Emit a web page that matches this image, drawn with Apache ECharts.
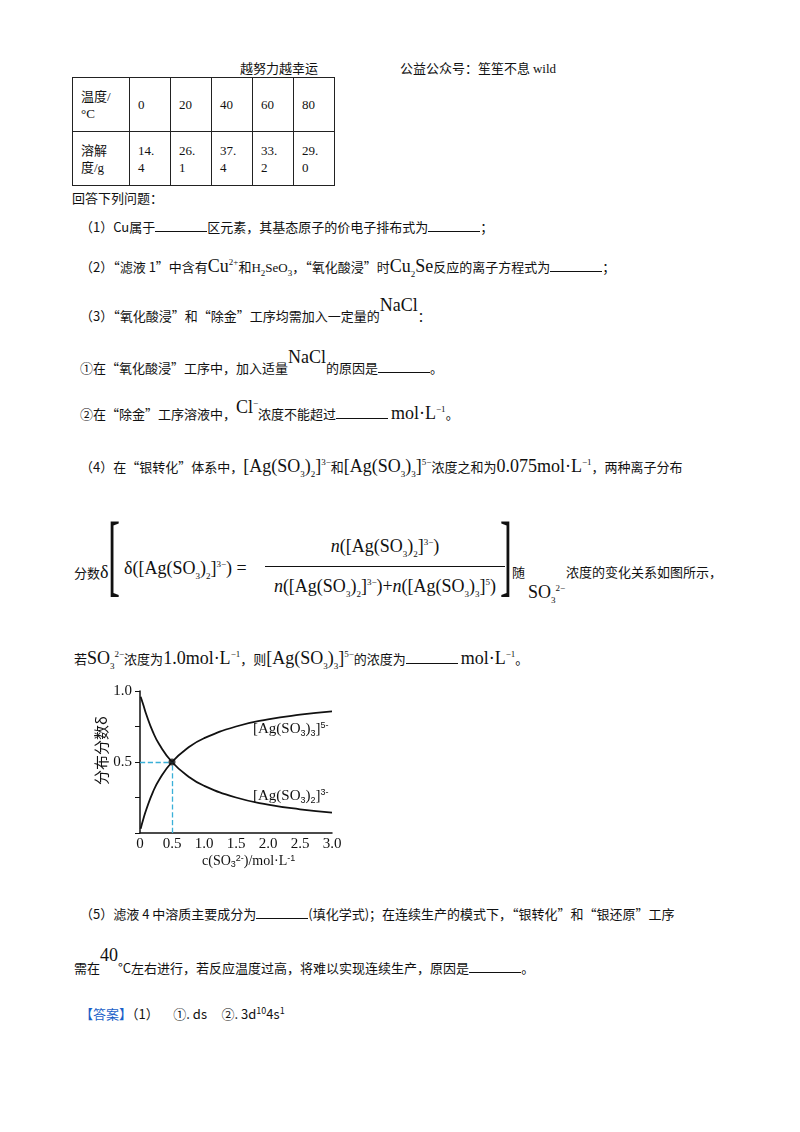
<!DOCTYPE html>
<html><head><meta charset="utf-8">
<script src="https://cdn.jsdelivr.net/npm/echarts@6/dist/echarts.min.js"></script>
<style>
body{margin:0;width:800px;height:1132px;background:#fff;position:relative;font-family:"Liberation Serif","Noto Sans CJK SC",serif;font-size:14px;color:#111;}
.t{position:absolute;white-space:nowrap;}
.c{font-family:"Noto Sans CJK SC",sans-serif;font-size:13px;}
sub,sup{font-size:9px;}
table{position:absolute;left:72px;top:77px;border-collapse:collapse;}
td{border:1.5px solid #222;vertical-align:middle;padding:0 8px;font-size:13px;line-height:17px;}
.u{display:inline-block;width:52px;border-bottom:1px solid #111;}
.big{font-size:18px;}
#chart{position:absolute;left:90px;top:676px;width:270px;height:200px;}
</style></head><body>
<div class="t c" style="left:240px;top:58px">越努力越幸运</div>
<div class="t c" style="left:400px;top:58px">公益公众号：笙笙不息 <span style="font-family:'Liberation Serif'">wild</span></div>
<table>
<tr style="height:54px"><td style="width:40px">温度/<br>°C</td><td style="width:24px">0</td><td style="width:24px">20</td><td style="width:24px">40</td><td style="width:24px">60</td><td style="width:24px">80</td></tr>
<tr style="height:54px"><td>溶解<br>度/g</td><td>14.<br>4</td><td>26.<br>1</td><td>37.<br>4</td><td>33.<br>2</td><td>29.<br>0</td></tr>
</table>
<div class="t c" style="left:72px;top:188px">回答下列问题：</div>
<div class="t c" style="left:80px;top:217px">（1）Cu属于<span class="u"></span>区元素，其基态原子的价电子排布式为<span class="u"></span>；</div>
<div class="t c" style="left:80px;top:256px">（2）“滤液 1”中含有<span class="big" style="font-family:'Liberation Serif'">Cu<sup>2+</sup></span>和<span style="font-family:'Liberation Serif'">H<sub>2</sub>SeO<sub>3</sub></span>，“氧化酸浸”时<span style="font-family:'Liberation Serif'" class="big">Cu<sub>2</sub>Se</span>反应的离子方程式为<span class="u"></span>；</div>
<div class="t c" style="left:80px;top:305px">（3）“氧化酸浸”和“除金”工序均需加入一定量的<span class="big" style="font-family:'Liberation Serif';position:relative;top:-10px">NaCl</span>：</div>
<div class="t c" style="left:80px;top:357px">①在“氧化酸浸”工序中，加入适量<span class="big" style="font-family:'Liberation Serif';position:relative;top:-10px">NaCl</span>的原因是<span class="u"></span>。</div>
<div class="t c" style="left:80px;top:403px">②在“除金”工序溶液中，<span class="big" style="font-family:'Liberation Serif';position:relative;top:-6px">Cl<sup>−</sup></span>浓度不能超过<span class="u"></span> <span style="font-family:'Liberation Serif'" class="big">mol·L<sup>−1</sup></span>。</div>
<div class="t c" style="left:80px;top:456px">（4）在“银转化”体系中，<span class="big" style="font-family:'Liberation Serif'">[Ag(SO<sub>3</sub>)<sub>2</sub>]<sup>3−</sup></span>和<span class="big" style="font-family:'Liberation Serif'">[Ag(SO<sub>3</sub>)<sub>3</sub>]<sup>5−</sup></span>浓度之和为<span class="big" style="font-family:'Liberation Serif'">0.075mol·L<sup>−1</sup></span>，两种离子分布</div>
<div class="t c" style="left:74px;top:562px">分数<span class="big" style="font-family:'Liberation Serif'">δ</span></div>
<div class="t" style="left:108px;top:510px;font-size:90px;line-height:90px;font-weight:100;transform:scaleX(0.4);transform-origin:left">[</div>
<div class="t big" style="left:124px;top:558px">δ([Ag(SO<sub>3</sub>)<sub>2</sub>]<sup>3−</sup>) =</div>
<div class="t big" style="left:265px;top:536px;width:240px;text-align:center"><i>n</i>([Ag(SO<sub>3</sub>)<sub>2</sub>]<sup>3−</sup>)</div>
<div class="t" style="left:265px;top:566px;width:240px;border-top:1px solid #111"></div>
<div class="t big" style="left:255px;top:576px;width:260px;text-align:center"><i>n</i>([Ag(SO<sub>3</sub>)<sub>2</sub>]<sup>3−</sup>)+<i>n</i>([Ag(SO<sub>3</sub>)<sub>3</sub>]<sup>5</sup>)</div>
<div class="t" style="left:500px;top:510px;font-size:90px;line-height:90px;transform:scaleX(0.4);transform-origin:left">]</div>
<div class="t c" style="left:512px;top:562px">随</div>
<div class="t big" style="left:528px;top:582px">SO<sub>3</sub><sup>2−</sup></div>
<div class="t c" style="left:566px;top:562px">浓度的变化关系如图所示，</div>
<div class="t c" style="left:74px;top:648px">若<span class="big" style="font-family:'Liberation Serif'">SO<sub>3</sub><sup>2−</sup></span>浓度为<span class="big" style="font-family:'Liberation Serif'">1.0mol·L<sup>−1</sup></span>，则<span class="big" style="font-family:'Liberation Serif'">[Ag(SO<sub>3</sub>)<sub>3</sub>]<sup>5−</sup></span>的浓度为<span class="u"></span> <span class="big" style="font-family:'Liberation Serif'">mol·L<sup>−1</sup></span>。</div>
<div id="chart"></div>
<div class="t c" style="left:80px;top:904px">（5）滤液 4 中溶质主要成分为<span class="u"></span>(填化学式)；在连续生产的模式下，“银转化”和“银还原”工序</div>
<div class="t c" style="left:74px;top:957px">需在<span class="big" style="font-family:'Liberation Serif';position:relative;top:-12px">40</span>°C左右进行，若反应温度过高，将难以实现连续生产，原因是<span class="u"></span>。</div>
<div class="t c" style="left:80px;top:1004px"><span style="color:#1a5fc8">【答案】</span>（1）&nbsp;&nbsp;&nbsp;&nbsp;&nbsp;①. ds&nbsp;&nbsp;&nbsp;&nbsp;&nbsp;②. 3d<sup>10</sup>4s<sup>1</sup></div>
<script>
const conc = [0.01, 0.05, 0.1, 0.2, 0.3, 0.5, 0.75, 1.0, 1.5, 2.0, 2.5, 3.0];
const ag2 = [0.96, 0.905, 0.833, 0.714, 0.625, 0.500, 0.400, 0.333, 0.250, 0.200, 0.167, 0.143];
const ag3 = [0.03, 0.095, 0.167, 0.286, 0.375, 0.500, 0.600, 0.667, 0.750, 0.800, 0.833, 0.857];
const chart = echarts.init(document.getElementById('chart'));
const serif = 'Liberation Serif';
const rich = { s: { fontSize: 9, verticalAlign: 'bottom', padding: [7,0,0,0] }, p: { fontSize: 9, padding: [0,0,8,0] } };
chart.setOption({
  animation: false,
  grid: { left: 50, right: 28, top: 15, bottom: 43 },
  xAxis: {
    type: 'value', min: 0, max: 3, interval: 0.5,
    axisLine: { lineStyle: { color: '#111', width: 1.5 } },
    axisTick: { show: false }, splitLine: { show: false },
    axisLabel: { color: '#111', fontFamily: serif, fontSize: 15, margin: 4,
      formatter: v => v === 0 ? '0' : v.toFixed(1) }
  },
  yAxis: {
    type: 'value', min: 0, max: 1, interval: 0.25,
    axisLine: { show: true, lineStyle: { color: '#111', width: 1.5 } },
    axisTick: { show: true, length: 5, lineStyle: { color: '#111' } },
    splitLine: { show: false },
    axisLabel: { color: '#111', fontFamily: serif, fontSize: 15, margin: 8,
      formatter: v => (v === 0.5 || v === 1) ? v.toFixed(1) : '' }
  },
  graphic: [
    { type: 'text', left: 4, top: 40, rotation: Math.PI / 2,
      style: { text: '分布分数δ', font: '15px "Noto Sans CJK SC"', fill: '#111' } },
    { type: 'text', left: 112, top: 178,
      style: { text: 'c(SO{s|3}{p|2-})/mol·L{p|-1}', font: '14px "Liberation Serif"', fill: '#111',
        rich: { s: { fontSize: 9, verticalAlign: 'bottom', padding: [6,0,0,0] }, p: { fontSize: 9, padding: [0,0,6,0] } } } },
    { type: 'text', left: 163, top: 45,
      style: { text: '[Ag(SO{s|3}){s|3}]{p|5-}', font: '15px "Liberation Serif"', fill: '#111', rich } },
    { type: 'text', left: 163, top: 112,
      style: { text: '[Ag(SO{s|3}){s|2}]{p|3-}', font: '15px "Liberation Serif"', fill: '#111', rich } }
  ],
  series: [
    { type: 'line', smooth: 0.5, showSymbol: false, data: conc.map((c, i) => [c, ag2[i]]),
      lineStyle: { color: '#111', width: 1.8 } },
    { type: 'line', smooth: 0.5, showSymbol: false, data: conc.map((c, i) => [c, ag3[i]]),
      lineStyle: { color: '#111', width: 1.8 },
      markLine: { silent: true, symbol: 'none', label: { show: false },
        lineStyle: { color: '#3ab0d8', type: 'dashed', width: 1.3 },
        data: [[{ coord: [0, 0.5] }, { coord: [0.5, 0.5] }], [{ coord: [0.5, 0] }, { coord: [0.5, 0.5] }]] } },
    { type: 'scatter', data: [[0.5, 0.5]], symbolSize: 7, itemStyle: { color: '#111' }, z: 5 }
  ]
});
</script>
</body></html>
